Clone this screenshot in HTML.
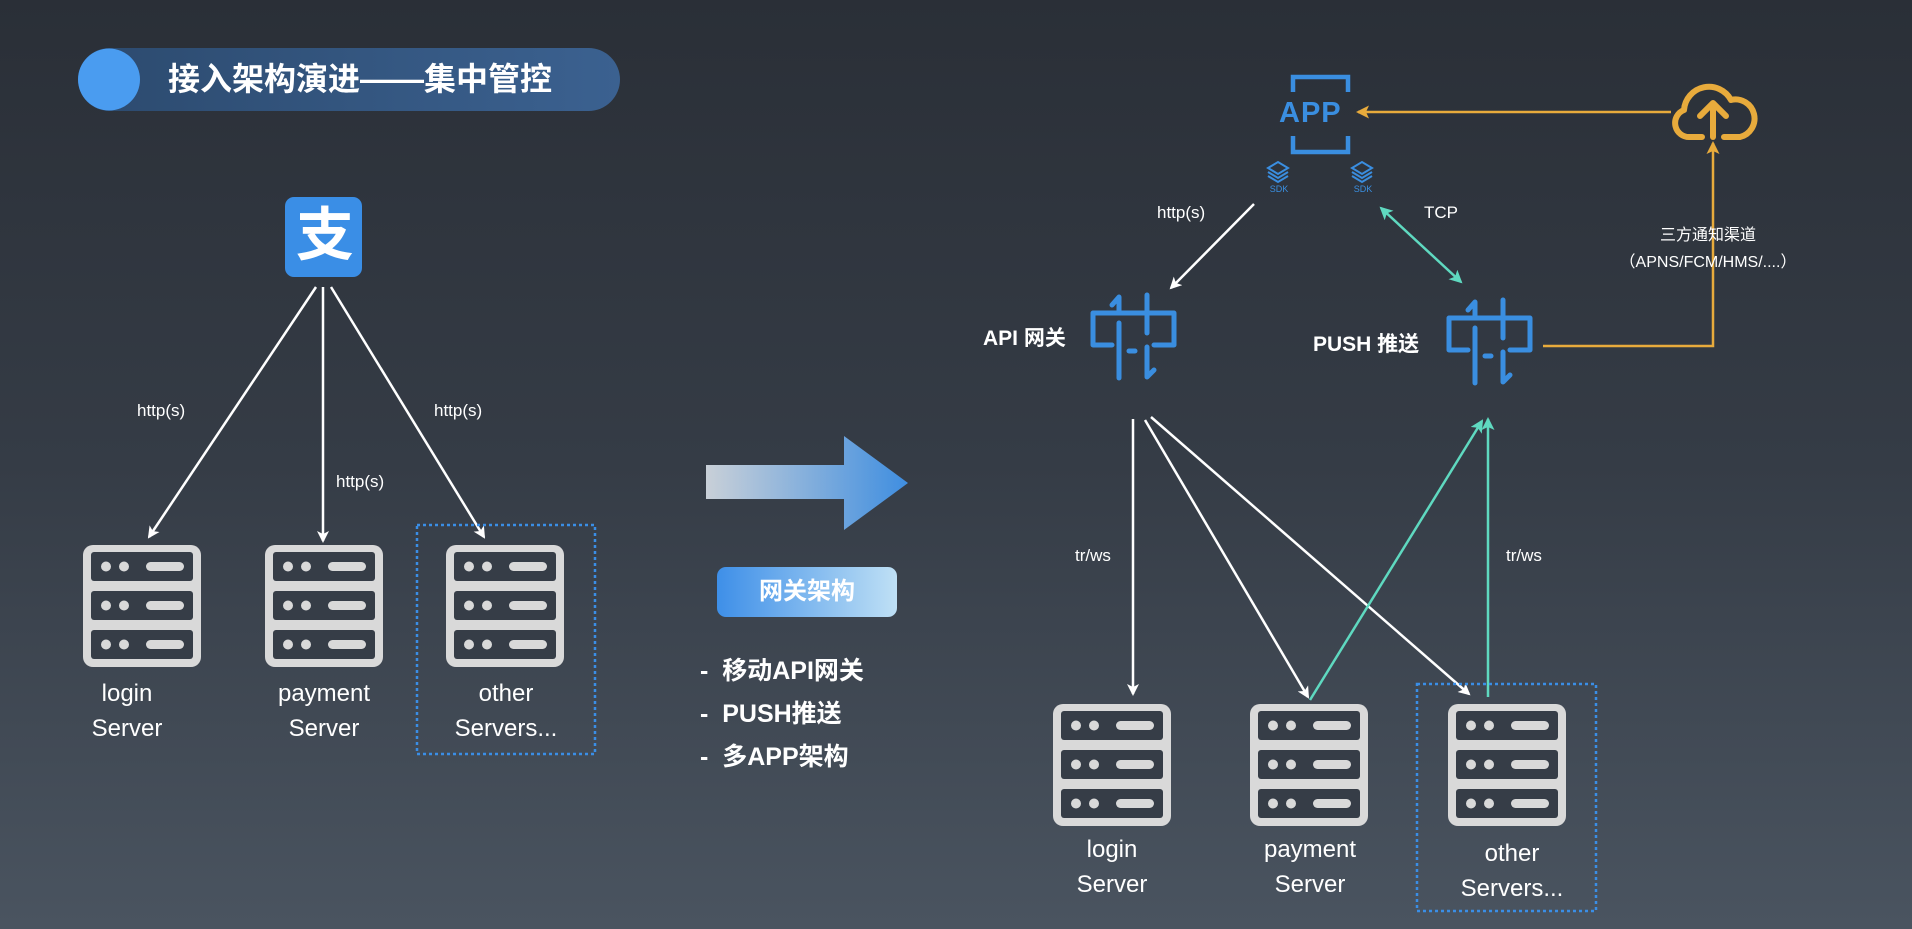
<!DOCTYPE html>
<html><head><meta charset="utf-8"><style>
html,body{margin:0;padding:0}
body{width:1912px;height:929px;overflow:hidden;background:linear-gradient(180deg,#2a2f37 0%,#353c46 50%,#4a5460 100%);font-family:"Liberation Sans","Noto Sans CJK SC",sans-serif;position:relative}
.t{position:absolute;color:#fff;white-space:nowrap}
</style></head><body>
<svg width="1912" height="929" style="position:absolute;left:0;top:0">
<defs>
<linearGradient id="pill" x1="0" x2="1"><stop offset="0" stop-color="#2c4a6e"/><stop offset="1" stop-color="#3b6190"/></linearGradient>
<linearGradient id="arr" x1="0" x2="1"><stop offset="0" stop-color="#c9d0d8"/><stop offset="1" stop-color="#3f8ee0"/></linearGradient>
<linearGradient id="btn" x1="0" x2="1"><stop offset="0" stop-color="#3e8fe8"/><stop offset="1" stop-color="#bfe0f5"/></linearGradient>
<marker id="mw" markerWidth="12" markerHeight="12" refX="10" refY="6" orient="auto" markerUnits="userSpaceOnUse"><path d="M0,0 L12,6 L0,12 L3,6z" fill="#fff"/></marker>
<marker id="mt" markerWidth="13" markerHeight="13" refX="11" refY="6.5" orient="auto" markerUnits="userSpaceOnUse"><path d="M0,0 L13,6.5 L0,13 L3,6.5z" fill="#5fd9c0"/></marker>
<marker id="mts" markerWidth="13" markerHeight="13" refX="2" refY="6.5" orient="auto" markerUnits="userSpaceOnUse"><path d="M13,0 L0,6.5 L13,13 L10,6.5z" fill="#5fd9c0"/></marker>
<marker id="mo" markerWidth="13" markerHeight="13" refX="11" refY="6.5" orient="auto" markerUnits="userSpaceOnUse"><path d="M0,0 L13,6.5 L0,13 L3,6.5z" fill="#e8ab3c"/></marker>
<g id="srv">
<rect x="0" y="0" width="118" height="122" rx="10" fill="#d9d9d9"/>
<rect x="8" y="7" width="102" height="29" rx="3" fill="#363d47"/>
<rect x="8" y="46" width="102" height="29" rx="3" fill="#363d47"/>
<rect x="8" y="85" width="102" height="29" rx="3" fill="#363d47"/>
<g fill="#d9d9d9">
<circle cx="23" cy="21.5" r="5"/><circle cx="41" cy="21.5" r="5"/><rect x="63" y="17" width="38" height="9" rx="4.5"/>
<circle cx="23" cy="60.5" r="5"/><circle cx="41" cy="60.5" r="5"/><rect x="63" y="56" width="38" height="9" rx="4.5"/>
<circle cx="23" cy="99.5" r="5"/><circle cx="41" cy="99.5" r="5"/><rect x="63" y="95" width="38" height="9" rx="4.5"/>
</g></g>
<g id="gw" fill="none" stroke="#3a8ee0" stroke-width="5" stroke-linecap="round" stroke-linejoin="round">
<path d="M22,52 H3 V20 H84 V52 H64"/>
<path d="M22,12 L29,4 V18"/><path d="M29,30 V85"/>
<path d="M57,2 V40"/><path d="M57,54 V84 L64,77"/>
<path d="M39,58 H45"/>
</g>
<g id="sdk" fill="none" stroke="#3a8ee0" stroke-width="2">
<path d="M0,6 L10,0 L20,6 L10,12z"/><path d="M0,10 L10,16 L20,10"/><path d="M0,14 L10,20 L20,14"/>
</g>
</defs>
<rect x="78" y="48" width="542" height="63" rx="31.5" fill="url(#pill)"/>
<circle cx="109" cy="79.5" r="31" fill="#4a9cf0"/>
<rect x="285" y="197" width="77" height="80" rx="9" fill="#3a8ee6"/>
<g stroke="#fff" stroke-width="2.5" fill="none" marker-end="url(#mw)">
<line x1="316" y1="287" x2="149" y2="537"/>
<line x1="323" y1="287" x2="323" y2="541"/>
<line x1="331" y1="287" x2="484" y2="537"/>
</g>
<use href="#srv" x="83" y="545"/><use href="#srv" x="265" y="545"/><use href="#srv" x="446" y="545"/>
<rect x="417" y="525" width="178" height="229" fill="none" stroke="#3a8ee6" stroke-width="2.5" stroke-dasharray="3,3"/>
<path d="M706,465 H844 V436 L908,483 L844,530 V499 H706z" fill="url(#arr)"/>
<rect x="717" y="567" width="180" height="50" rx="9" fill="url(#btn)"/>
<g fill="none" stroke="#3a8ee0" stroke-width="4.5">
<path d="M1293,92 V77 H1348 V92"/><path d="M1293,136 V152 H1348 V136"/>
</g>
<use href="#sdk" x="1268" y="162"/><use href="#sdk" x="1352" y="162"/>
<line x1="1254" y1="204" x2="1171" y2="288" stroke="#fff" stroke-width="2.5" marker-end="url(#mw)"/>
<line x1="1381" y1="208" x2="1461" y2="282" stroke="#5fd9c0" stroke-width="2.5" marker-end="url(#mt)" marker-start="url(#mts)"/>
<line x1="1671" y1="112" x2="1358" y2="112" stroke="#e8ab3c" stroke-width="2.5" marker-end="url(#mo)"/>
<path d="M1543,346 H1713 V143" fill="none" stroke="#e8ab3c" stroke-width="2.5" marker-end="url(#mo)"/>
<g fill="none" stroke="#e8ab3c" stroke-width="6" stroke-linecap="round" stroke-linejoin="round">
<path d="M1702,137 H1690 A14,14 0 0 1 1684,110 A25,25 0 0 1 1731,100 A18.5,18.5 0 0 1 1740,137 H1724"/>
<path d="M1713,137 V104"/><path d="M1700,116 L1713,103 L1726,116"/>
</g>
<use href="#gw" x="1090" y="293"/><use href="#gw" x="1446" y="298"/>
<g stroke="#fff" stroke-width="2.5" fill="none" marker-end="url(#mw)">
<line x1="1133" y1="419" x2="1133" y2="694"/>
<line x1="1145" y1="420" x2="1308" y2="697"/>
<line x1="1151" y1="417" x2="1469" y2="694"/>
</g>
<g stroke="#5fd9c0" stroke-width="2.5" fill="none" marker-end="url(#mt)">
<line x1="1310" y1="700" x2="1482" y2="421"/>
<line x1="1488" y1="697" x2="1488" y2="419"/>
</g>
<use href="#srv" x="1053" y="704"/><use href="#srv" x="1250" y="704"/><use href="#srv" x="1448" y="704"/>
<rect x="1417" y="684" width="179" height="227" fill="none" stroke="#3a8ee6" stroke-width="2.5" stroke-dasharray="3,3"/>
</svg>
<div class="t" style="left:168px;top:58px;font-size:32px;font-weight:bold;line-height:42px">接入架构演进——集中管控</div>
<div class="t" style="left:291px;top:196px;font-size:58px;line-height:80px;font-weight:bold;width:68px;text-align:center">支</div>
<div class="t" style="left:137px;top:401px;font-size:17px">http(s)</div>
<div class="t" style="left:336px;top:472px;font-size:17px">http(s)</div>
<div class="t" style="left:434px;top:401px;font-size:17px">http(s)</div>
<div class="t" style="left:72px;top:676px;font-size:24px;line-height:35px;width:110px;text-align:center">login<br>Server</div>
<div class="t" style="left:264px;top:676px;font-size:24px;line-height:35px;width:120px;text-align:center">payment<br>Server</div>
<div class="t" style="left:446px;top:676px;font-size:24px;line-height:35px;width:120px;text-align:center">other<br>Servers...</div>
<div class="t" style="left:717px;top:575px;font-size:24px;font-weight:bold;width:180px;text-align:center;line-height:34px">网关架构</div>
<div class="t" style="left:700px;top:650px;font-size:25px;font-weight:bold;line-height:43px">-&nbsp;&nbsp;移动API网关<br>-&nbsp;&nbsp;PUSH推送<br>-&nbsp;&nbsp;多APP架构</div>
<div class="t" style="left:1279px;top:95px;font-size:29px;font-weight:bold;color:#3a8ee0;letter-spacing:1px;line-height:36px">APP</div>
<div class="t" style="left:1268px;top:184px;font-size:9px;color:#3a8ee0;width:22px;text-align:center">SDK</div>
<div class="t" style="left:1352px;top:184px;font-size:9px;color:#3a8ee0;width:22px;text-align:center">SDK</div>
<div class="t" style="left:1157px;top:203px;font-size:17px">http(s)</div>
<div class="t" style="left:1424px;top:203px;font-size:17px">TCP</div>
<div class="t" style="left:1600px;top:222px;font-size:16px;width:216px;text-align:center;line-height:27px">三方通知渠道<br>（APNS/FCM/HMS/....）</div>
<div class="t" style="left:983px;top:322px;font-size:21px;font-weight:bold">API 网关</div>
<div class="t" style="left:1313px;top:328px;font-size:21px;font-weight:bold">PUSH 推送</div>
<div class="t" style="left:1075px;top:546px;font-size:17px">tr/ws</div>
<div class="t" style="left:1506px;top:546px;font-size:17px">tr/ws</div>
<div class="t" style="left:1052px;top:832px;font-size:24px;line-height:35px;width:120px;text-align:center">login<br>Server</div>
<div class="t" style="left:1250px;top:832px;font-size:24px;line-height:35px;width:120px;text-align:center">payment<br>Server</div>
<div class="t" style="left:1447px;top:836px;font-size:24px;line-height:35px;width:130px;text-align:center">other<br>Servers...</div>
</body></html>
